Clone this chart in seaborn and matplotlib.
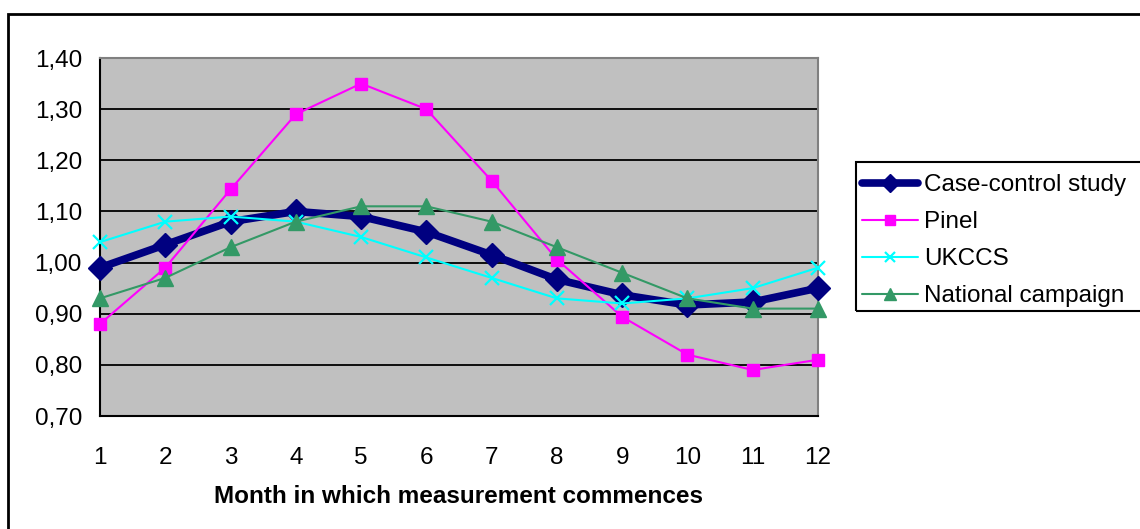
import matplotlib
matplotlib.use("Agg")
import matplotlib.pyplot as plt
from matplotlib.patches import Rectangle
from matplotlib.lines import Line2D
import seaborn as sns
import pandas as pd

months = list(range(1, 13))
case_control = [0.99, 1.035, 1.08, 1.10, 1.09, 1.06, 1.015, 0.967, 0.937, 0.917, 0.923, 0.95]
pinel = [0.88, 0.99, 1.143, 1.29, 1.35, 1.30, 1.16, 1.006, 0.894, 0.82, 0.79, 0.81]
ukccs = [1.04, 1.08, 1.09, 1.08, 1.05, 1.01, 0.97, 0.93, 0.92, 0.93, 0.95, 0.99]
national = [0.93, 0.97, 1.03, 1.08, 1.11, 1.11, 1.08, 1.03, 0.98, 0.93, 0.91, 0.91]
series_names = ["Case-control study", "Pinel", "UKCCS", "National campaign"]
y_ticks = [0.70, 0.80, 0.90, 1.00, 1.10, 1.20, 1.30, 1.40]
x_label = "Month in which measurement commences"

sns.set_style("white")
plt.rcParams["font.family"] = ["Liberation Sans", "DejaVu Sans"]
plt.rcParams["text.color"] = "black"
plt.rcParams["axes.labelcolor"] = "black"

FS = 17.5

fig = plt.figure(figsize=(11.4, 5.29), dpi=100)
ax = fig.add_axes([100 / 1140, 1 - 416 / 529, 718 / 1140, 358 / 529])
ax.set_facecolor("#C0C0C0")

styles = [
    dict(color="#000080", marker="D", linewidth=5.5, markersize=12, mec="#000080", mfc="#000080"),
    dict(color="#FF00FF", marker="s", linewidth=1.5, markersize=9, mec="#FF00FF", mfc="#FF00FF"),
    dict(color="#00FFFF", marker="x", linewidth=1.5, markersize=10, mec="#00FFFF", mew=1.6),
    dict(color="#339966", marker="^", linewidth=1.5, markersize=11, mec="#339966", mfc="#339966"),
]
data = [case_control, pinel, ukccs, national]

for name, vals, st in zip(series_names, data, styles):
    df = pd.DataFrame({"month": months, "value": vals})
    sns.lineplot(data=df, x="month", y="value", ax=ax, color=st["color"],
                 linewidth=st["linewidth"], marker=st["marker"], markersize=st["markersize"],
                 markeredgecolor=st["mec"], markerfacecolor=st.get("mfc", st["color"]),
                 markeredgewidth=st.get("mew", 1.0), legend=False, zorder=3, clip_on=False)

ax.set_xlim(1, 12)
ax.set_ylim(0.70, 1.40)
ax.set_xticks(months)
ax.set_xticklabels([str(m) for m in months])
ax.set_yticks(y_ticks)
ax.set_yticklabels([f"{v:.2f}".replace(".", ",") for v in y_ticks])
ax.grid(axis="y", color="black", linewidth=1.3, zorder=1)
ax.grid(axis="x", visible=False)
ax.set_axisbelow(True)
ax.tick_params(axis="both", labelsize=FS, colors="black", direction="out", length=7, width=1.2)
ax.tick_params(axis="y", pad=6)
ax.tick_params(axis="x", pad=15)
ax.set_xlabel(x_label, fontsize=FS, fontweight="bold", labelpad=12, color="black")
ax.set_ylabel("")
for side in ["left", "bottom"]:
    ax.spines[side].set_color("black")
    ax.spines[side].set_linewidth(1.5)
for side in ["top", "right"]:
    ax.spines[side].set_color("#808080")
    ax.spines[side].set_linewidth(1.5)

# outer chart border
fig.patches.append(Rectangle((8 / 1140, -0.05), 1.1, 1 - 14 / 529 + 0.05, transform=fig.transFigure,
                             fill=False, edgecolor="black", linewidth=2, zorder=0))

# legend frame
fig.patches.append(Rectangle((856 / 1140, 1 - 311 / 529), 0.5, 149 / 529, transform=fig.transFigure,
                             fill=False, edgecolor="black", linewidth=1.5, zorder=5))
handles = [Line2D([], [], color=st["color"], linewidth=st["linewidth"], marker=st["marker"],
                  markersize=st["markersize"] * 0.75, markeredgecolor=st["mec"],
                  markerfacecolor=st.get("mfc", st["color"]), markeredgewidth=st.get("mew", 1.0))
           for st in styles]
leg = fig.legend(handles, series_names, loc="upper left", bbox_to_anchor=(862 / 1140, 1 - 174 / 529),
                 frameon=False, fontsize=FS, handlelength=2.3, handletextpad=0.25, labelspacing=0.62,
                 borderpad=0, borderaxespad=0)
for t in leg.get_texts():
    t.set_color("black")

fig.savefig("out.png", dpi=100)
